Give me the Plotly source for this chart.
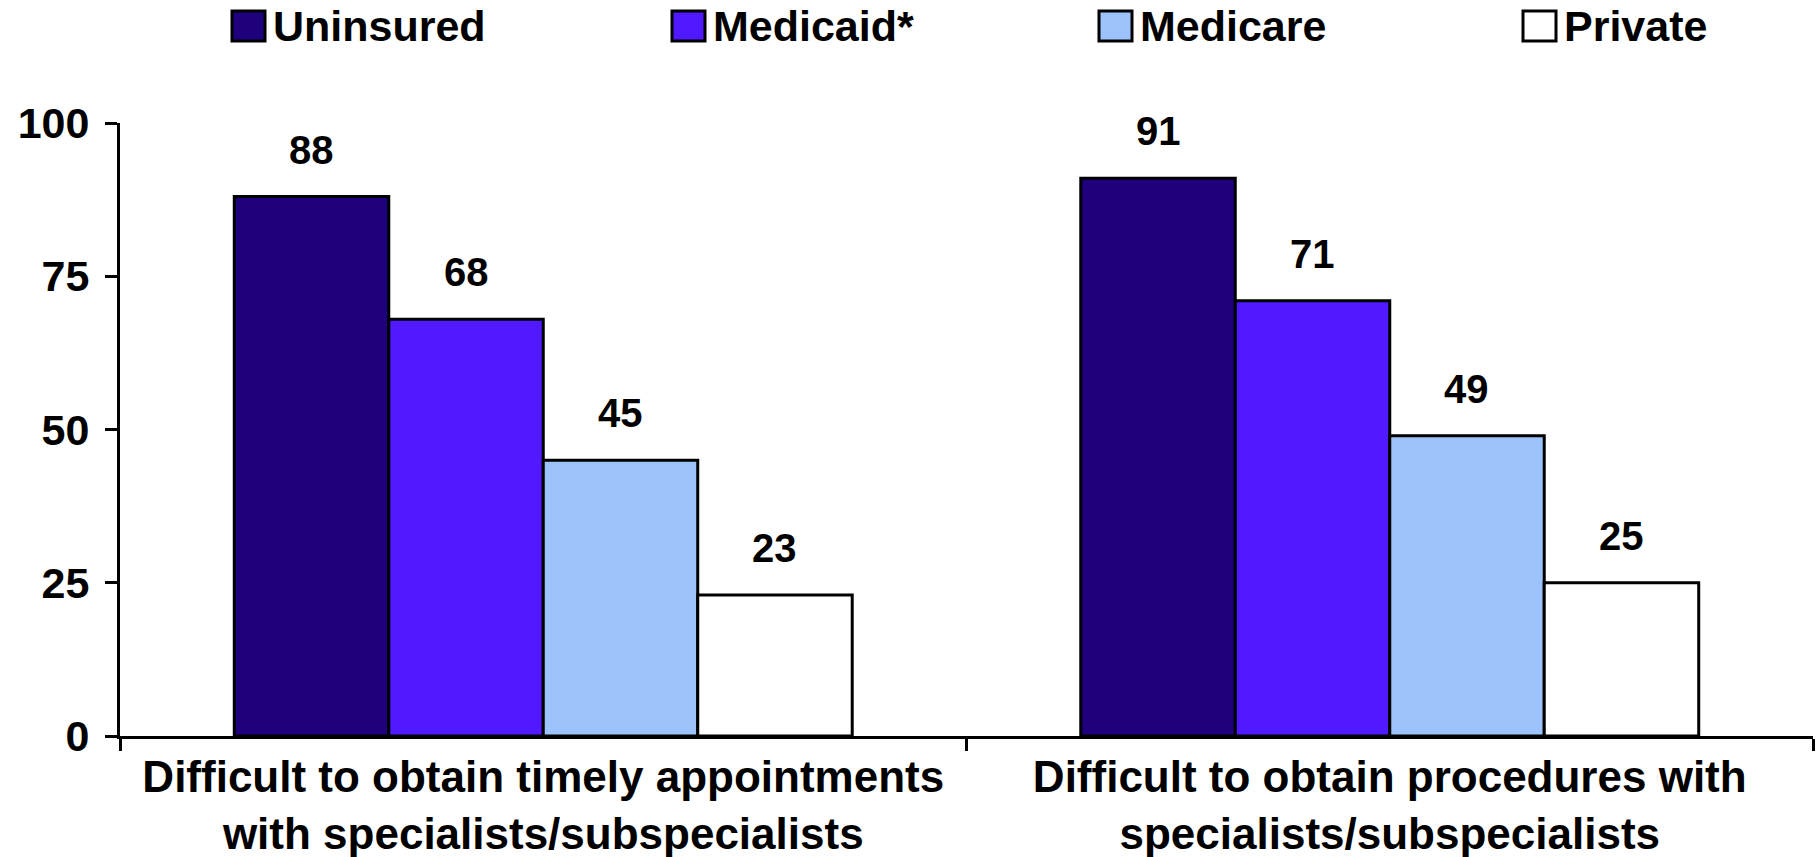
import plotly.graph_objects as go

# Survey results: share reporting difficulty, by patient insurance type
categories = [
    "Difficult to obtain timely appointments<br>with specialists/subspecialists",
    "Difficult to obtain procedures with<br>specialists/subspecialists",
]
series_names = ["Uninsured", "Medicaid*", "Medicare", "Private"]
uninsured = [88, 91]
medicaid = [68, 71]
medicare = [45, 49]
private = [23, 25]
series_values = [uninsured, medicaid, medicare, private]
y_ticks = [0, 25, 50, 75, 100]

colors = ["#1F007D", "#5119FF", "#9CC3FC", "#FFFFFF"]
FONT = "Liberation Sans, Arial, sans-serif"

W, H = 1820, 857
M_L, M_R, M_T, M_B = 120, 7, 123, 121
BARGAP = 0.27

fig = go.Figure()
for name, vals, col in zip(series_names, series_values, colors):
    fig.add_trace(go.Bar(
        name=name, x=categories, y=vals,
        marker=dict(color=col, line=dict(color="black", width=3)),
        showlegend=False, hoverinfo="x+y+name",
    ))

# value labels above each bar, positioned on the category scale
n = len(series_names)
bar_w = (1 - BARGAP) / n
annotations = []
for i, vals in enumerate(series_values):
    off = (i - (n - 1) / 2) * bar_w
    for ci, v in enumerate(vals):
        annotations.append(dict(
            x=ci + off, y=v, xref="x", yref="y", text=str(v),
            showarrow=False, yanchor="bottom", yshift=23,
            font=dict(family=FONT, size=40, color="black", weight="bold"),
        ))

# legend row drawn as swatches + labels
plot_w = W - M_L - M_R
plot_h = H - M_T - M_B
def px_x(px):
    return (px - M_L) / plot_w
def px_y(py):
    return (H - M_B - py) / plot_h

legend_left = [232, 672, 1099, 1523]
sw_w, sw_h, leg_cy = 33, 30, 26
shapes = []
for name, col, lx in zip(series_names, colors, legend_left):
    shapes.append(dict(
        type="rect", xref="paper", yref="paper",
        x0=px_x(lx), x1=px_x(lx + sw_w),
        y0=px_y(leg_cy + sw_h / 2), y1=px_y(leg_cy - sw_h / 2),
        fillcolor=col, line=dict(color="black", width=3),
    ))
    annotations.append(dict(
        x=px_x(lx + sw_w + 6), y=px_y(leg_cy), xref="paper", yref="paper",
        text=name, showarrow=False, xanchor="left", yanchor="middle",
        font=dict(family=FONT, size=43, color="black", weight="bold"),
    ))

fig.update_layout(
    width=W, height=H,
    margin=dict(l=M_L, r=M_R, t=M_T, b=M_B, pad=0),
    paper_bgcolor="white", plot_bgcolor="white",
    barmode="group", bargap=BARGAP, bargroupgap=0,
    annotations=annotations, shapes=shapes,
    font=dict(family=FONT, color="black"),
    xaxis=dict(
        type="category", range=[-0.5, 1.5], automargin=False,
        showline=True, linecolor="black", linewidth=3,
        ticks="outside", tickson="boundaries", ticklen=12,
        tickwidth=3, tickcolor="black", ticklabelstandoff=0,
        tickfont=dict(family=FONT, size=44, color="black", weight="bold"),
        showgrid=False, zeroline=False,
    ),
    yaxis=dict(
        range=[0, 100], tickvals=y_ticks, automargin=False,
        showline=True, linecolor="black", linewidth=3,
        ticks="outside", ticklen=12, tickwidth=3, tickcolor="black",
        ticklabelstandoff=7,
        tickfont=dict(family=FONT, size=43, color="black", weight="bold"),
        showgrid=False, zeroline=False,
    ),
)

fig.write_html("out.html")
